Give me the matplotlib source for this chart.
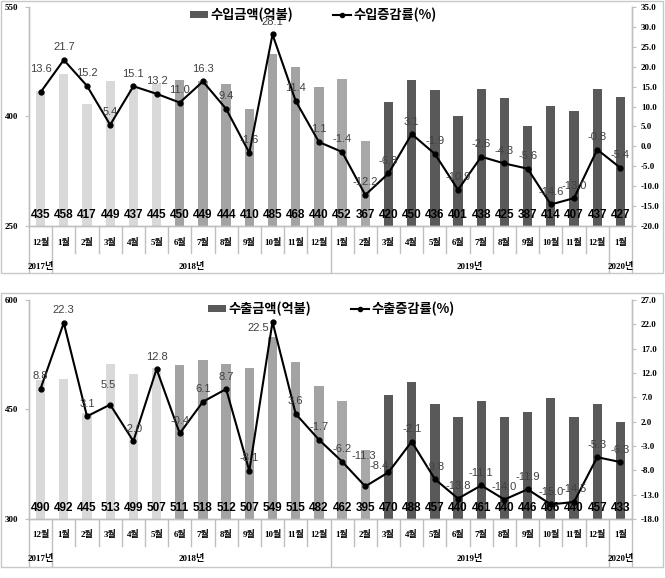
import numpy as np
import matplotlib
matplotlib.use("Agg")
import matplotlib.pyplot as plt
from matplotlib.patches import Patch, Rectangle
from matplotlib.lines import Line2D
import matplotlib.transforms as mtransforms

# ---------------- data ----------------
months = ['12월', '1월', '2월', '3월', '4월', '5월', '6월', '7월', '8월', '9월', '10월', '11월', '12월',
          '1월', '2월', '3월', '4월', '5월', '6월', '7월', '8월', '9월', '10월', '11월', '12월', '1월']
years = ['2017년'] + ['2018년'] * 12 + ['2019년'] * 12 + ['2020년']

import_amount = [435, 458, 417, 449, 437, 445, 450, 449, 444, 410, 485, 468, 440,
                 452, 367, 420, 450, 436, 401, 438, 425, 387, 414, 407, 437, 427]
import_rate = [13.6, 21.7, 15.2, 5.4, 15.1, 13.2, 11.0, 16.3, 9.4, -1.6, 28.1, 11.4, 1.1,
               -1.4, -12.2, -6.8, 3.1, -1.9, -10.9, -2.6, -4.3, -5.6, -14.6, -13.0, -0.8, -5.4]

export_amount = [490, 492, 445, 513, 499, 507, 511, 518, 512, 507, 549, 515, 482,
                 462, 395, 470, 488, 457, 440, 461, 440, 446, 466, 440, 457, 433]
export_rate = [8.8, 22.3, 3.1, 5.5, -2.0, 12.8, -0.4, 6.1, 8.7, -8.1, 22.5, 3.6, -1.7,
               -6.2, -11.3, -8.4, -2.1, -9.8, -13.8, -11.1, -14.0, -11.9, -15.0, -14.5, -5.3, -6.3]

import_labels = ['수입금액(억불)', '수입증감률(%)']
export_labels = ['수출금액(억불)', '수출증감률(%)']

# ---------------- style ----------------
W, H = 665, 578
bar_colors = ['#d9d9d9'] * 6 + ['#a3a3a3'] * 7 + ['#a8a8a8'] * 2 + ['#595959'] * 11
SPINE = '#bfbfbf'
NUM_FONT = ['Liberation Serif', 'Noto Sans CJK KR']
CJK = ['Noto Sans CJK KR', 'DejaVu Sans']
plt.rcParams['font.family'] = CJK
# label offsets (pixels, dx, dy-up) where the reference deviates from the default
top_label_shift = {0: (0, 23)}
bottom_label_shift = {3: (-2, 20), 10: (-14, -6), 14: (-1, 30), 15: (-9, 6)}

fig = plt.figure(figsize=(W / 100, H / 100), dpi=100)


def fx(px):
    return px / W


def fy(py):
    return 1 - py / H


def panel(top_px, bottom_px, amounts, rates, left_lim, left_ticks, right_lim, right_ticks,
          labels, legend_xy, frame, shifts):
    ax = fig.add_axes([fx(29), fy(bottom_px), fx(632) - fx(29), (bottom_px - top_px) / H])
    ax2 = ax.twinx()
    x = np.arange(len(amounts))
    ax.bar(x, amounts, width=0.4, color=bar_colors, zorder=2)
    ax.set_xlim(-0.5, len(amounts) - 0.5)
    ax.set_ylim(*left_lim)
    ax.set_yticks(left_ticks)
    ax.set_yticklabels([str(t) for t in left_ticks], fontfamily=NUM_FONT, fontweight='bold', fontsize=6.5)
    ax.set_xticks([])
    ax2.set_ylim(*right_lim)
    ax2.set_yticks(right_ticks)
    ax2.set_yticklabels([f"{t:.1f}" for t in right_ticks], fontfamily=NUM_FONT, fontweight='bold',
                        fontsize=6.5)
    for a in (ax, ax2):
        a.spines['top'].set_visible(False)
        for s in ('left', 'right', 'bottom'):
            a.spines[s].set_color(SPINE)
            a.spines[s].set_linewidth(1)
        a.tick_params(axis='y', length=3, color=SPINE)
    ax.tick_params(axis='y', pad=5)
    ax2.tick_params(axis='y', pad=3.5)

    ax2.plot(x, rates, color='black', lw=1.5, marker='o', markersize=3.5, zorder=3)
    for i, v in enumerate(rates):
        dx, dy = shifts.get(i, (0, 12.5))
        ax2.annotate(f"{v:.1f}", (i, v), xytext=(dx * 0.72, dy * 0.72), textcoords='offset points',
                     ha='center', va='center', fontsize=8, color='#404040',
                     fontfamily=['Liberation Sans', 'DejaVu Sans'], zorder=4)

    trans = mtransforms.blended_transform_factory(ax.transData, ax.transAxes)
    for i, v in enumerate(amounts):
        ax2.text(i, 0.052, str(v), transform=trans, ha='center', va='center',
                 fontsize=8.5, fontweight='bold', color='black',
                 fontfamily=['Liberation Sans', 'DejaVu Sans'], zorder=5)

    hpx = bottom_px - top_px
    # month labels and separators
    for i, m in enumerate(months):
        ax.text(i, -16 / hpx, m, transform=trans, ha='center', va='center', fontsize=6.5,
                fontweight='bold', fontfamily=NUM_FONT)
    year_bounds = [i for i in range(1, len(years)) if years[i] != years[i - 1]]
    for i in range(1, len(months)):
        depth = -47 / hpx if i in year_bounds else -27 / hpx
        ax.plot([i - 0.5, i - 0.5], [0, depth], transform=trans, color=SPINE, lw=1, clip_on=False)
    for edge in (-0.5, len(months) - 0.5):
        ax.plot([edge, edge], [0, -47 / hpx], transform=trans, color=SPINE, lw=1, clip_on=False)
    # year labels
    starts = [0] + year_bounds
    ends = year_bounds + [len(years)]
    for s, e in zip(starts, ends):
        ax.text((s + e - 1) / 2, -40 / hpx, years[s], transform=trans, ha='center', va='center',
                fontsize=6.5, fontweight='bold', fontfamily=NUM_FONT)

    handles = [Patch(facecolor='#595959', edgecolor='none'),
               Line2D([], [], color='black', lw=1.5, marker='o', markersize=3)]
    fig.legend(handles, labels, ncol=2, loc='center', bbox_to_anchor=legend_xy,
               frameon=False, prop={'family': CJK, 'weight': 'bold', 'size': 9.5},
               handlelength=1.4, handleheight=0.5, handletextpad=0.15, columnspacing=3.0)

    fig.add_artist(Rectangle((fx(frame[0]), fy(frame[3])), fx(frame[2]) - fx(frame[0]),
                             (frame[3] - frame[1]) / H, transform=fig.transFigure, fill=False,
                             edgecolor='#c8c8c8', lw=1))
    return ax, ax2


panel(7, 226, import_amount, import_rate, (250, 550), [250, 400, 550], (-20, 35),
      np.arange(-20, 35.1, 5), import_labels, (fx(313), fy(15)), (1, 1, 663, 273), top_label_shift)
panel(300, 519, export_amount, export_rate, (300, 600), [300, 450, 600], (-18, 27),
      np.arange(-18, 27.1, 5), export_labels, (fx(331), fy(309)), (1, 293, 663, 567),
      bottom_label_shift)

fig.savefig('out.png', dpi=100)
